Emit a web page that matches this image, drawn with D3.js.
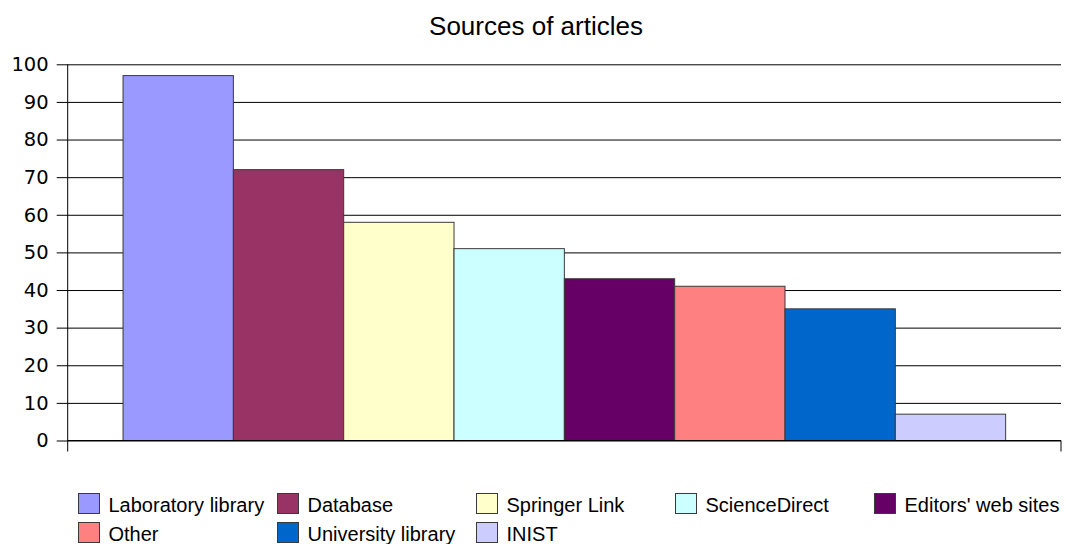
<!DOCTYPE html>
<html>
<head>
<meta charset="utf-8">
<script src="https://cdn.jsdelivr.net/npm/d3@7"></script>
<style>
  html, body { margin: 0; padding: 0; background: #fff; }
  svg { display: block; }
</style>
</head>
<body>
<svg id="chart" width="1066" height="544"></svg>
<script>
const title = "Sources of articles";
const seriesNames = ["Laboratory library", "Database", "Springer Link", "ScienceDirect",
  "Editors' web sites", "Other", "University library", "INIST"];
const seriesValues = [97, 72, 58, 51, 43, 41, 35, 7];
const seriesColors = ["#9999ff", "#993366", "#ffffcc", "#ccffff", "#660066", "#ff8080", "#0066cc", "#ccccff"];
const yTicks = [0, 10, 20, 30, 40, 50, 60, 70, 80, 90, 100];

(function () {
const svg = d3.select("#chart");
const pLeft = 67.7, pRight = 1061, pTop = 64.3, pBottom = 440.5;

const y = d3.scaleLinear().domain([0, 100]).range([pBottom, pTop]);
const xOuter = d3.scaleBand().domain(["all"]).range([pLeft, pRight]).paddingInner(0).paddingOuter(0.0627);
const xInner = d3.scaleBand().domain(seriesNames).range([0, xOuter.bandwidth()]).padding(0);

// Title
svg.append("text")
  .attr("x", 536).attr("y", 35)
  .attr("text-anchor", "middle")
  .attr("font-family", "Liberation Sans, Arial, sans-serif")
  .attr("font-size", 26)
  .attr("fill", "#000")
  .text(title);

// Gridlines + Y axis
const yAxis = d3.axisLeft(y).tickValues(yTicks).tickSize(-(pRight - pLeft)).tickSizeOuter(0).tickPadding(19);
const gy = svg.append("g").attr("transform", `translate(${pLeft},0)`).call(yAxis);
gy.select(".domain").remove();
gy.selectAll(".tick line").attr("stroke", "#000").attr("stroke-width", 1).attr("x1", -11);
gy.selectAll(".tick text")
  .attr("font-family", "DejaVu Sans, sans-serif")
  .attr("font-size", 19.5)
  .attr("fill", "#000");

// Bars
const g = svg.append("g").attr("transform", `translate(${xOuter("all")},0)`);
g.selectAll("rect.bar")
  .data(seriesNames.map((n, i) => ({ name: n, value: seriesValues[i], color: seriesColors[i] })))
  .enter().append("rect")
  .attr("class", "bar")
  .attr("x", d => xInner(d.name))
  .attr("y", d => y(d.value))
  .attr("width", xInner.bandwidth())
  .attr("height", d => y(0) - y(d.value))
  .attr("fill", d => d.color)
  .attr("stroke", "#3a3a3a")
  .attr("stroke-width", 1);

// Axes lines
svg.append("line").attr("x1", pLeft).attr("x2", pLeft).attr("y1", pTop).attr("y2", pBottom + 11)
  .attr("stroke", "#000").attr("stroke-width", 1);
svg.append("line").attr("x1", pLeft).attr("x2", pRight).attr("y1", pBottom).attr("y2", pBottom)
  .attr("stroke", "#000").attr("stroke-width", 1);
svg.append("line").attr("x1", pRight).attr("x2", pRight).attr("y1", pBottom).attr("y2", pBottom + 11)
  .attr("stroke", "#000").attr("stroke-width", 1);

// Legend
const legendCols = 5, colStep = 199, legX = 78.5, legY = 493.5, rowStep = 29;
const leg = svg.append("g");
seriesNames.forEach((n, i) => {
  const c = i % legendCols, r = Math.floor(i / legendCols);
  const gx = legX + c * colStep, gyy = legY + r * rowStep;
  leg.append("rect").attr("x", gx).attr("y", gyy).attr("width", 21).attr("height", 20)
    .attr("fill", seriesColors[i]).attr("stroke", "#3a3a3a").attr("stroke-width", 1);
  leg.append("text").attr("x", gx + 30).attr("y", gyy + 18)
    .attr("font-family", "Liberation Sans, Arial, sans-serif")
    .attr("font-size", 20).attr("fill", "#000").text(n);
});
})();
</script>
</body>
</html>
